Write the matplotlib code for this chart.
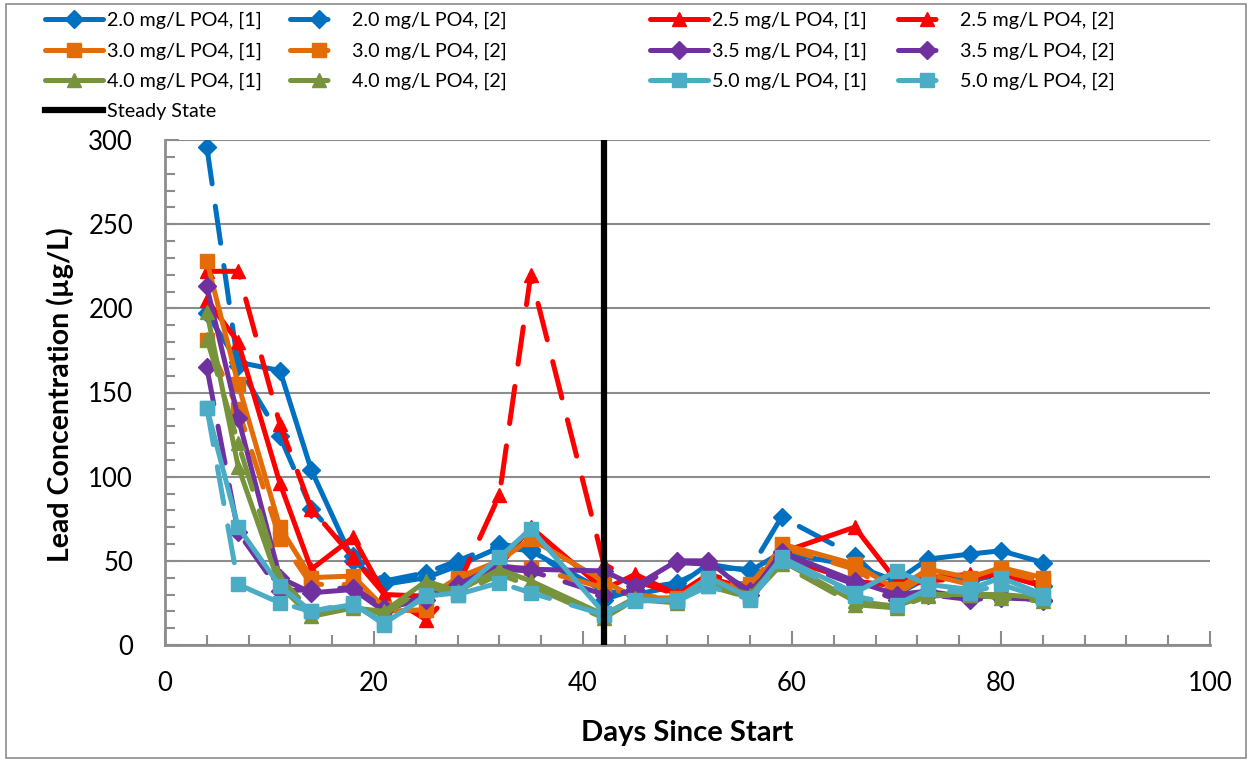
import matplotlib
matplotlib.use("Agg")
import matplotlib.pyplot as plt
from matplotlib.patches import Rectangle
from matplotlib.ticker import MultipleLocator
import numpy as np

# ---------------- data ----------------
days = [4, 7, 11, 14, 18, 21, 25, 28, 32, 35, 42, 45, 49, 52, 56, 59, 66, 70, 73, 77, 80, 84]

pb_20_1 = [197, 168, 163, 104, 50, 36, 40, 47, 58, 56, 32, 30, 35, 48, 44, 55, 47, 38, 51, 54, 56, 49]
pb_20_2 = [296, 166, 124, 81, 53, 38, 43, 50, 60, 57, 27, 33, 37, 46, 45, 76, 53, 30, 40, 38, 42, 35]
pb_25_1 = [205, 180, 96, 45, 64, 30, 29, 38, 47, 70, 33, 42, 30, 40, 33, 55, 70, 38, 40, 42, 42, 35]
pb_25_2 = [222, 222, 131, 81, 52, 30, 15, 35, 89, 220, 48, 38, 30, 42, 35, 52, 38, 35, 38, 40, 42, 36]
pb_30_1 = [228, 155, 70, 40, 41, 22, 28, 40, 50, 63, 38, 28, 28, 40, 30, 60, 48, 33, 45, 40, 46, 40]
pb_30_2 = [181, 140, 63, 36, 36, 20, 21, 38, 45, 46, 34, 30, 27, 38, 36, 58, 45, 30, 42, 36, 44, 38]
pb_35_1 = [213, 135, 40, 31, 33, 20, 30, 36, 47, 45, 44, 35, 50, 50, 30, 55, 38, 30, 32, 28, 30, 26]
pb_35_2 = [165, 67, 32, 33, 34, 22, 27, 33, 45, 44, 30, 32, 49, 48, 32, 52, 36, 27, 30, 27, 28, 27]
pb_40_1 = [198, 106, 35, 17, 22, 20, 38, 32, 45, 38, 18, 28, 26, 37, 30, 50, 26, 23, 30, 30, 30, 28]
pb_40_2 = [182, 120, 40, 20, 23, 18, 35, 30, 42, 35, 16, 27, 25, 35, 28, 48, 24, 22, 29, 30, 28, 26]
pb_50_1 = [141, 70, 35, 20, 24, 13, 29, 31, 52, 69, 19, 26, 27, 40, 28, 52, 31, 44, 36, 33, 40, 30]
pb_50_2 = [141, 36, 25, 20, 25, 12, 30, 30, 37, 31, 18, 27, 26, 35, 27, 50, 29, 24, 33, 31, 36, 28]

doses = ["2.0", "2.5", "3.0", "3.5", "4.0", "5.0"]
steady_day = 42

colors = ["#0070C0", "#FF0000", "#E36C09", "#7030A0", "#77933C", "#4BACC6"]
markers = ["D", "^", "s", "D", "^", "s"]
msizes = [9.5, 10.5, 10.5, 9.5, 10.5, 10.5]
series1 = [pb_20_1, pb_25_1, pb_30_1, pb_35_1, pb_40_1, pb_50_1]
series2 = [pb_20_2, pb_25_2, pb_30_2, pb_35_2, pb_40_2, pb_50_2]

# ---------------- figure ----------------
plt.rcParams["font.family"] = ["Lato", "DejaVu Sans"]
fig = plt.figure(figsize=(12.52, 7.61), dpi=100)
ax = fig.add_axes([165 / 1252, 1 - 645 / 761, (1210 - 165) / 1252, (645 - 140) / 761])

lw = 3.6
handles = {}
for i, d in enumerate(doses):
    h1, = ax.plot(days, series1[i], color=colors[i], lw=lw, marker=markers[i],
                  ms=msizes[i], solid_joinstyle="round", solid_capstyle="round",
                  label=f"{d} mg/L PO4, [1]", zorder=3)
    h2, = ax.plot(days, series2[i], color=colors[i], lw=lw, marker=markers[i],
                  ms=msizes[i], dashes=(7.5, 4.5), dash_capstyle="round",
                  label=f"{d} mg/L PO4, [2]", zorder=3)
    handles[(i, 1)] = h1
    handles[(i, 2)] = h2

ss = ax.axvline(steady_day, color="black", lw=4.5, label="Steady State", zorder=4)

ax.set_xlim(0, 100)
ax.set_ylim(0, 300)
ax.xaxis.set_major_locator(MultipleLocator(20))
ax.xaxis.set_minor_locator(MultipleLocator(4))
ax.yaxis.set_major_locator(MultipleLocator(50))
ax.yaxis.set_minor_locator(MultipleLocator(10))
ax.grid(axis="y", which="major", color="#8C8C8C", lw=1.5)
ax.set_axisbelow(True)
for s in ["top", "right"]:
    ax.spines[s].set_visible(False)
for s in ["left", "bottom"]:
    ax.spines[s].set_color("#8C8C8C")
    ax.spines[s].set_linewidth(2)
ax.tick_params(which="major", direction="in", length=10, width=1.5, color="#8C8C8C",
               labelsize=18.5, labelcolor="black")
ax.tick_params(which="minor", direction="in", length=7, width=1.5, color="#8C8C8C")
ax.tick_params(axis="y", which="major", pad=23)
ax.tick_params(axis="x", which="major", pad=19)

ax.set_xlabel("Days Since Start", fontsize=21, fontweight="bold", labelpad=17)
ax.set_ylabel("Lead Concentration (µg/L)", fontsize=20.5, fontweight="bold")
ax.yaxis.set_label_coords(-0.087, 0.495)

# legend: four separately placed columns, as in the reference
columns = [
    ([handles[(0, 1)], handles[(2, 1)], handles[(4, 1)], ss], 45),
    ([handles[(0, 2)], handles[(2, 2)], handles[(4, 2)]], 290),
    ([handles[(1, 1)], handles[(3, 1)], handles[(5, 1)]], 650),
    ([handles[(1, 2)], handles[(3, 2)], handles[(5, 2)]], 898),
]
for hs, xpix in columns:
    fig.legend(handles=hs, labels=[h.get_label() for h in hs], ncol=1,
               loc="upper left", bbox_to_anchor=(xpix / 1252, 1 - 12 / 761),
               frameon=False, fontsize=14.2, handlelength=2.95, handletextpad=0.2,
               labelspacing=0.665, borderpad=0, borderaxespad=0)

fig.add_artist(Rectangle((6 / 1252, 3 / 761), 1240 / 1252, 754 / 761, transform=fig.transFigure,
                         fill=False, edgecolor="#8C8C8C", lw=1.2))

fig.savefig("out.png", dpi=100)
